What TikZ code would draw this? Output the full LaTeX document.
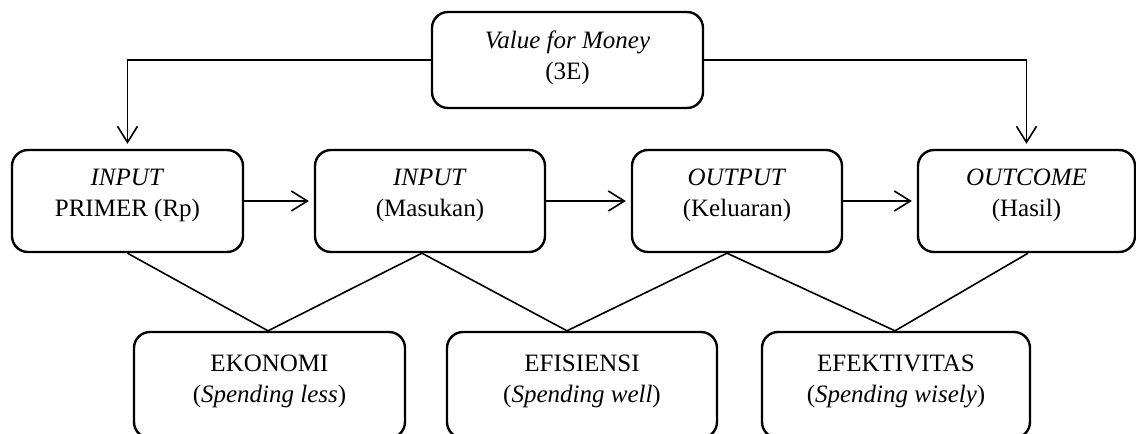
\documentclass[tikz,border=0pt]{standalone}
\usepackage{fontspec}
\setmainfont{Liberation Serif}
\usetikzlibrary{arrows.meta}
\begin{document}
\begin{tikzpicture}[x=0.5pt,y=-0.5pt,
  box/.style={draw, line width=1.2pt, rounded corners=8pt, inner sep=0pt},
  lbl/.style={align=center, font=\fontsize{12.5}{15.5}\selectfont},
  conn/.style={line width=0.8pt},
  arr/.style={conn, -{Straight Barb[length=8pt,width=10pt,line width=0.8pt]}, shorten >=2.5pt}]
\useasboundingbox (0,0) rectangle (1136,434);
\clip (0,0) rectangle (1136,434);
% top box
\node[box, minimum width=135.5pt, minimum height=48pt,
  label={[lbl, yshift=1pt]center:{\textit{Value for Money}\\(3E)}}] (top) at (567.5,60) {};
% row boxes
\node[box, minimum width=115.5pt, minimum height=51pt,
  label={[lbl, yshift=3pt]center:{\textit{INPUT}\\PRIMER (Rp)}}] (b1) at (127.5,201) {};
\node[box, minimum width=115pt, minimum height=51pt,
  label={[lbl, yshift=3pt]center:{\textit{INPUT}\\(Masukan)}}] (b2) at (430,201) {};
\node[box, minimum width=105pt, minimum height=51pt,
  label={[lbl, yshift=3pt]center:{\textit{OUTPUT}\\(Keluaran)}}] (b3) at (737,201) {};
\node[box, minimum width=108.5pt, minimum height=51pt,
  label={[lbl, yshift=3pt]center:{\textit{OUTCOME}\\(Hasil)}}] (b4) at (1026.5,201) {};
% bottom boxes
\node[box, minimum width=135.5pt, minimum height=53pt,
  label={[lbl, yshift=1.8pt]center:{EKONOMI\\(\textit{Spending less})}}] (e1) at (269.5,385) {};
\node[box, minimum width=135pt, minimum height=53pt,
  label={[lbl, yshift=1.8pt]center:{EFISIENSI\\(\textit{Spending well})}}] (e2) at (582,385) {};
\node[box, minimum width=134pt, minimum height=53pt,
  label={[lbl, yshift=1.8pt]center:{EFEKTIVITAS\\(\textit{Spending wisely})}}] (e3) at (896,385) {};
% top arrows
\draw[arr] (top.west) -| (b1.north);
\draw[arr] (top.east) -| (b4.north);
% horizontal arrows
\draw[arr] (b1.east) -- (b2.west);
\draw[arr] (b2.east) -- (b3.west);
\draw[arr] (b3.east) -- (b4.west);
% connecting lines
\draw[conn] (b1.south) -- ([xshift=-0.75pt]e1.north) -- ([xshift=-4pt]b2.south);
\draw[conn] ([xshift=-4pt]b2.south) -- ([xshift=-7.5pt]e2.north) -- ([xshift=-5pt]b3.south);
\draw[conn] ([xshift=-5pt]b3.south) -- ([xshift=-0.5pt]e3.north) -- ([xshift=0.75pt]b4.south);
\end{tikzpicture}
\end{document}
